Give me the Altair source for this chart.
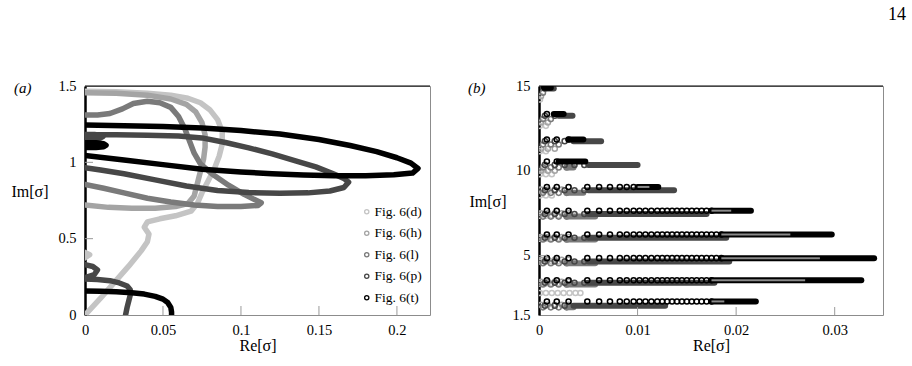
import altair as alt
import pandas as pd

FONT = "Liberation Serif"
SERIES = ["Fig. 6(d)", "Fig. 6(h)", "Fig. 6(l)", "Fig. 6(p)", "Fig. 6(t)"]
GREYS = ["#c4c4c4", "#a4a4a4", "#7a7a7a", "#474747", "#000000"]

# ---------------- panel (a): eigenvalue branches, (Re, Im) along each branch
D_MAIN = [(0, 1.465), (0.02, 1.462), (0.04, 1.452), (0.055, 1.44), (0.066, 1.42), (0.074, 1.39),
          (0.080, 1.345), (0.085, 1.28), (0.088, 1.2), (0.088, 1.12), (0.086, 1.04), (0.083, 0.96),
          (0.079, 0.88), (0.075, 0.80), (0.072, 0.73), (0.068, 0.68), (0.058, 0.65), (0.048, 0.63),
          (0.040, 0.61), (0.038, 0.575), (0.041, 0.53), (0.040, 0.48), (0.036, 0.42), (0.028, 0.32),
          (0.019, 0.215), (0.010, 0.11), (0.0, 0.0)]
D_ARC = [(0, 0.41), (0.003, 0.395), (0, 0.375)]
H_MAIN = [(0, 1.455), (0.02, 1.452), (0.04, 1.44), (0.055, 1.415), (0.065, 1.38), (0.071, 1.33),
          (0.075, 1.26), (0.077, 1.18), (0.077, 1.10), (0.076, 1.02), (0.074, 0.94), (0.072, 0.86),
          (0.070, 0.78), (0.066, 0.73), (0.058, 0.71), (0.045, 0.70), (0.03, 0.70), (0.015, 0.705),
          (0, 0.72)]
L_MAIN = [(0, 1.31), (0.008, 1.31), (0.016, 1.32), (0.024, 1.35), (0.031, 1.385), (0.04, 1.40),
          (0.048, 1.39), (0.055, 1.36), (0.06, 1.30), (0.064, 1.22), (0.067, 1.14), (0.070, 1.06),
          (0.074, 0.99), (0.082, 0.92), (0.092, 0.85), (0.102, 0.79), (0.109, 0.755), (0.113, 0.735),
          (0.111, 0.718), (0.10, 0.71), (0.085, 0.71), (0.07, 0.72), (0.055, 0.74), (0.04, 0.765),
          (0.025, 0.80), (0.012, 0.83), (0, 0.855)]
P_MAIN = [(0, 1.18), (0.02, 1.18), (0.04, 1.178), (0.06, 1.172), (0.075, 1.16), (0.09, 1.13),
          (0.105, 1.095), (0.12, 1.055), (0.135, 1.01), (0.148, 0.97), (0.158, 0.93), (0.166, 0.895),
          (0.169, 0.87), (0.166, 0.835), (0.157, 0.812), (0.143, 0.80), (0.125, 0.798), (0.105, 0.802),
          (0.085, 0.815), (0.065, 0.845), (0.045, 0.885), (0.025, 0.925), (0.01, 0.95), (0, 0.965)]
P_LOOP = [(0, 1.182), (0.006, 1.182), (0.010, 1.177), (0.0115, 1.168), (0.010, 1.16), (0.006, 1.156),
          (0, 1.156)]
P_LOW = [(0, 0.235), (0.008, 0.233), (0.016, 0.225), (0.022, 0.21), (0.027, 0.19), (0.029, 0.165),
         (0.029, 0.13), (0.028, 0.09), (0.027, 0.05), (0.026, 0.0)]
P_ARC = [(0, 0.33), (0.005, 0.318), (0.008, 0.295), (0.006, 0.265), (0, 0.245)]
T_MAIN = [(0, 1.245), (0.025, 1.24), (0.05, 1.235), (0.075, 1.225), (0.1, 1.208), (0.125, 1.185),
          (0.15, 1.15), (0.17, 1.11), (0.187, 1.07), (0.2, 1.03), (0.209, 0.995), (0.2135, 0.96),
          (0.21, 0.93), (0.198, 0.918), (0.18, 0.912), (0.16, 0.912), (0.14, 0.917), (0.12, 0.925),
          (0.1, 0.937), (0.075, 0.955), (0.05, 0.985), (0.025, 1.015), (0, 1.045)]
T_LOOP = [(0, 1.128), (0.007, 1.128), (0.012, 1.122), (0.0135, 1.112), (0.012, 1.102), (0.007, 1.097),
          (0, 1.097)]
T_LOW = [(0, 0.157), (0.01, 0.156), (0.02, 0.153), (0.03, 0.146), (0.038, 0.137), (0.045, 0.122),
         (0.05, 0.104), (0.053, 0.082), (0.055, 0.05), (0.0555, 0.02), (0.0555, 0.0)]

A_BRANCHES = [
    ("Fig. 6(d)", "d1", D_MAIN), ("Fig. 6(d)", "d2", D_ARC),
    ("Fig. 6(h)", "h1", H_MAIN),
    ("Fig. 6(l)", "l1", L_MAIN),
    ("Fig. 6(p)", "p1", P_MAIN), ("Fig. 6(p)", "p2", P_LOOP), ("Fig. 6(p)", "p3", P_LOW),
    ("Fig. 6(p)", "p4", P_ARC),
    ("Fig. 6(t)", "t1", T_MAIN), ("Fig. 6(t)", "t2", T_LOOP), ("Fig. 6(t)", "t3", T_LOW),
]

A_XTICKS = [0.05, 0.1, 0.15, 0.2]
A_YTICKS = [0.5, 1.0]

# ---------------- panel (b): rows of eigenvalues, per series
T_ROW_IM = [2.3, 3.55, 4.85, 6.25, 7.65, 9.05, 10.55, 11.85, 13.35, 14.9]
T_ROW_END = [0.0220, 0.0327, 0.0340, 0.0297, 0.0215, 0.0121, 0.0047, 0.0045, 0.0025, 0.0012]
T_DENSE = [0.0175, 0.0175, 0.0185, 0.0185, 0.0175, 0.0100, 0.0020, 0.0030, 0.0015, 0.0005]
# where the closely packed circles of a black row close up into a solid band
T_SOLID = [0.0188, 0.0270, 0.0285, 0.0255, 0.0195, 0.0112, 0.0020, 0.0030, 0.0015, 0.0005]
T_STEPS = [0.0008, 0.0018, 0.0030, 0.0049, 0.0061, 0.0072, 0.0082, 0.0089, 0.0096, 0.0102, 0.0108,
           0.0114, 0.0120, 0.0125, 0.0130, 0.0135, 0.0140, 0.0145, 0.0150, 0.0155, 0.0160, 0.0165,
           0.0170, 0.0175, 0.0180, 0.0185]

P_ROW_IM = [2.05, 3.4, 4.65, 6.05, 7.45, 8.85, 10.35, 11.75, 13.25, 14.85]
P_ROW_END = [0.0128, 0.0178, 0.0193, 0.0190, 0.0170, 0.0137, 0.0100, 0.0063, 0.0034, 0.0015]
P_DENSE = [0.0035, 0.0050, 0.0050, 0.0050, 0.0050, 0.0050, 0.0050, 0.0035, 0.0020, 0.0008]
P_STEPS = [0.0006, 0.0016, 0.0026, 0.0036, 0.0046]

L_ROW_IM = [1.95, 3.3, 4.55, 5.95, 7.3, 8.7, 10.2, 11.55, 13.05, 14.6]
L_ROW_END = [0.0035, 0.0057, 0.0057, 0.0057, 0.0057, 0.0045, 0.0035, 0.0025, 0.0015, 0.0010]
L_DENSE = [0.0028] * 10
L_STEPS = [0.0004, 0.0012, 0.0020, 0.0028]

H_ROW_IM = [2.1, 3.45, 4.75, 6.1, 7.5, 8.9, 10.0, 11.3, 12.85, 14.4]
H_ROW_END = [0.0030, 0.0030, 0.0030, 0.0030, 0.0030, 0.0028, 0.0022, 0.0016, 0.0012, 0.0008]
H_DENSE = [1.0] * 10
H_STEPS = [0.0002, 0.0009, 0.0016, 0.0023, 0.0030]

D_ROW_IM = [2.8, 3.35, 4.65, 6.0, 7.35, 8.55, 9.8, 11.15, 12.65, 14.2]
D_ROW_END = [0.0042, 0.0022, 0.0022, 0.0022, 0.0022, 0.0018, 0.0014, 0.0011, 0.0008, 0.0006]
D_DENSE = [1.0] * 10
D_STEPS = [0.0001, 0.0007, 0.0013, 0.0019, 0.0025, 0.0031, 0.0037, 0.0042]

B_SPECS = [
    ("Fig. 6(d)", D_ROW_IM, D_ROW_END, D_DENSE, D_STEPS),
    ("Fig. 6(h)", H_ROW_IM, H_ROW_END, H_DENSE, H_STEPS),
    ("Fig. 6(l)", L_ROW_IM, L_ROW_END, L_DENSE, L_STEPS),
    ("Fig. 6(p)", P_ROW_IM, P_ROW_END, P_DENSE, P_STEPS),
    ("Fig. 6(t)", T_ROW_IM, T_ROW_END, T_DENSE, T_STEPS),
]

B_XTICKS = [0.01, 0.02, 0.03]
B_YTICKS = [5, 10]

# ---------------- tables
a_rows = []
for s, name, pts in A_BRANCHES:
    for k, (re, im) in enumerate(pts):
        a_rows.append({"series": s, "branch": name, "k": k, "re": re, "im": im})
a_df = pd.DataFrame(a_rows)

b_pts, b_bars = [], []
for s, ims, ends, dense, steps in B_SPECS:
    for r in range(len(ims)):
        lim = min(ends[r], dense[r])
        for x in steps:
            if x <= lim + 1e-9:
                b_pts.append({"series": s, "re": x, "im": ims[r]})
        if ends[r] > dense[r]:
            b_bars.append({"series": s, "re": dense[r], "re2": ends[r], "im": ims[r]})
b_pts = pd.DataFrame(b_pts)
b_bars = pd.DataFrame(b_bars)

# inner lighter stripe of the black bands, where the circles still show their holes
b_open = pd.DataFrame([
    {"re": T_DENSE[r], "re2": min(T_SOLID[r], T_ROW_END[r]), "im": T_ROW_IM[r]}
    for r in range(len(T_ROW_IM)) if min(T_SOLID[r], T_ROW_END[r]) > T_DENSE[r]
])

# ---------------- shared styling
W, H = 345, 229
WB = 344
color_scale = alt.Scale(domain=SERIES, range=GREYS)
TICK_GREY = "#9a9a9a"


def x_axis(values):
    return alt.Axis(values=values, labelExpr="toString(datum.value)", ticks=False, domain=False,
                    grid=False, labelFlush=False, labelPadding=8, title="Re[σ]",
                    titleY=30, titleBaseline="middle")


def y_axis(values, tx, ty):
    return alt.Axis(values=values, labelExpr="toString(datum.value)", ticks=False, domain=True,
                    domainColor="black", domainWidth=2.5, grid=False, labelFlush=False,
                    labelPadding=9, title="Im[σ]", titleAngle=0, titleAlign="right",
                    titleBaseline="middle", titleX=tx, titleY=ty)


# ---------------- panel (a)
xa = alt.Scale(domain=[0, 0.2212], nice=False)
ya = alt.Scale(domain=[0, 1.5], nice=False)

a_layers = []
for i, s in enumerate(SERIES):
    a_layers.append(
        alt.Chart(a_df[a_df.series == s]).mark_line(
            strokeWidth=5.5, strokeCap="round", strokeJoin="round", clip=True
        ).encode(
            x=alt.X("re:Q", scale=xa, axis=x_axis([0, 0.05, 0.1, 0.15, 0.2])),
            y=alt.Y("im:Q", scale=ya, axis=y_axis([0, 0.5, 1, 1.5], -37, 105)),
            color=alt.Color("series:N", scale=color_scale, legend=alt.Legend(
                title=None, orient="none", legendX=275, legendY=119, symbolType="circle",
                symbolSize=18, symbolFillColor="white", symbolStrokeWidth=1.3,
                labelFont=FONT, labelFontSize=13.5, labelColor="black", labelOffset=1,
                rowPadding=6.5, padding=0)),
            detail="branch:N",
            order="k:Q",
        )
    )

a_xt = alt.Chart(pd.DataFrame({"re": A_XTICKS})).mark_rule(color=TICK_GREY).encode(
    x=alt.X("re:Q", scale=xa), y=alt.value(H), y2=alt.value(H - 9))
a_yt = alt.Chart(pd.DataFrame({"im": A_YTICKS})).mark_rule(color=TICK_GREY).encode(
    y=alt.Y("im:Q", scale=ya), x=alt.value(0), x2=alt.value(8))
a_top = alt.Chart(pd.DataFrame({"t": [0]})).mark_rule(color="black", strokeWidth=1).encode(
    x=alt.value(0), x2=alt.value(W), y=alt.value(0))
a_tag = alt.Chart(pd.DataFrame({"t": ["(a)"]})).mark_text(
    font=FONT, fontSize=15, fontStyle="italic", align="left", baseline="middle"
).encode(text="t:N", x=alt.value(-71), y=alt.value(2))

panel_a = alt.layer(*a_layers, a_xt, a_yt, a_top, a_tag).properties(width=W, height=H)

# ---------------- panel (b)
xb = alt.Scale(domain=[0, 0.0349], nice=False)
yb = alt.Scale(domain=[1.5, 15], nice=False)

b_layers = []
for s in SERIES:
    pts = b_pts[b_pts.series == s]
    b_layers.append(
        alt.Chart(pts).mark_point(shape="circle", filled=False, size=26, strokeWidth=1.5,
                                  opacity=1, clip=True).encode(
            x=alt.X("re:Q", scale=xb, axis=x_axis(B_XTICKS + [0])),
            y=alt.Y("im:Q", scale=yb, axis=y_axis([1.5, 5, 10, 15], -33, 115)),
            color=alt.Color("series:N", scale=color_scale, legend=None),
        )
    )
    bars = b_bars[b_bars.series == s]
    if len(bars):
        b_layers.append(
            alt.Chart(bars).mark_rule(strokeWidth=6, strokeCap="round", clip=True).encode(
                x=alt.X("re:Q", scale=xb), x2="re2:Q",
                y=alt.Y("im:Q", scale=yb),
                color=alt.Color("series:N", scale=color_scale, legend=None),
            )
        )

b_stripe = alt.Chart(b_open).mark_rule(strokeWidth=2, color="#8a8a8a", clip=True).encode(
    x=alt.X("re:Q", scale=xb), x2="re2:Q", y=alt.Y("im:Q", scale=yb))
b_xt = alt.Chart(pd.DataFrame({"re": B_XTICKS})).mark_rule(color=TICK_GREY).encode(
    x=alt.X("re:Q", scale=xb), y=alt.value(H), y2=alt.value(H - 8))
b_yt = alt.Chart(pd.DataFrame({"im": B_YTICKS})).mark_rule(color=TICK_GREY).encode(
    y=alt.Y("im:Q", scale=yb), x=alt.value(0), x2=alt.value(8))
b_top = alt.Chart(pd.DataFrame({"t": [0]})).mark_rule(color="black", strokeWidth=1).encode(
    x=alt.value(0), x2=alt.value(WB), y=alt.value(0))
b_tag = alt.Chart(pd.DataFrame({"t": ["(b)"]})).mark_text(
    font=FONT, fontSize=15, fontStyle="italic", align="left", baseline="middle"
).encode(text="t:N", x=alt.value(-71), y=alt.value(2))
page_no = alt.Chart(pd.DataFrame({"t": ["14"]})).mark_text(
    font=FONT, fontSize=18, align="right", baseline="middle"
).encode(text="t:N", x=alt.value(367), y=alt.value(-71.5))

panel_b = alt.layer(*b_layers, b_stripe, b_xt, b_yt, b_top, b_tag, page_no).properties(
    width=WB, height=H)

chart = alt.hconcat(panel_a, panel_b, spacing=109, bounds="flush").resolve_scale(
    color="independent"
).properties(
    padding={"left": 10, "top": 5, "right": 5, "bottom": 5},
    background="white",
).configure_view(
    stroke="#8c8c8c", strokeWidth=1
).configure_axis(
    labelFont=FONT, labelFontSize=14.5, labelColor="black",
    titleFont=FONT, titleFontSize=16, titleFontWeight="normal", titleColor="black",
)

chart.save("out.html", embed_options={"renderer": "svg", "actions": False})
